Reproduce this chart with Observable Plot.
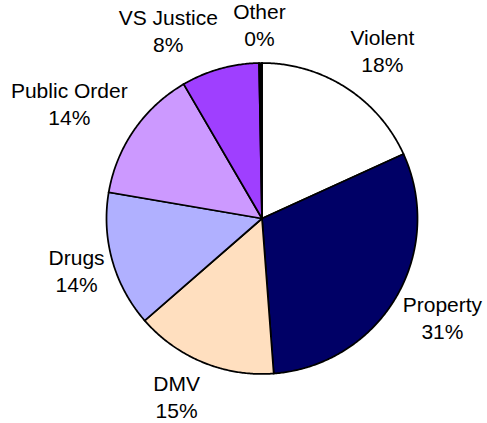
<!DOCTYPE html>
<html>
<head>
<meta charset="utf-8">
<script src="https://cdn.jsdelivr.net/npm/d3@7"></script>
<script src="https://cdn.jsdelivr.net/npm/@observablehq/plot@0.6"></script>
<style>
  html, body { margin: 0; padding: 0; background: #fff; }
  #chart svg { display: block; }
</style>
</head>
<body>
<div id="chart"></div>
<script>
// ---- data ----
const categories = ["Violent", "Property", "DMV", "Drugs", "Public Order", "VS Justice", "Other"];
const shares = [18.2, 30.6, 14.8, 14.1, 13.9, 8.1, 0.3];
const sliceColors = ["#FFFFFF", "#000066", "#FFDFBF", "#B0B0FF", "#CC99FF", "#9F3FFF", "#000000"];

// ---- layout ----
const W = 487, H = 423;
const margin = {left: 106, right: 70, top: 62.5, bottom: 49.5};
const R = (W - margin.left - margin.right) / 2; // pixels per data unit
const fontSize = 21;
const fontFamily = "'Liberation Sans', Arial, Helvetica, sans-serif";

const total = d3.sum(shares);
const pie = d3.pie().sort(null).value(d => d)(shares);

// slice polygons in unit coordinates (y up), angles clockwise from 12 o'clock
const polyPts = [];
pie.forEach((p, i) => {
  const cat = categories[i];
  const a0 = p.startAngle, a1 = p.endAngle;
  const n = Math.max(2, Math.ceil((a1 - a0) / (Math.PI / 360)));
  polyPts.push({cat, x: 0, y: 0});
  for (let k = 0; k <= n; k++) {
    const a = a0 + (a1 - a0) * k / n;
    polyPts.push({cat, x: Math.sin(a), y: Math.cos(a)});
  }
  polyPts.push({cat, x: 0, y: 0});
});

// label placement: "outside end" style boxes
const ctx = document.createElement("canvas").getContext("2d");
ctx.font = `${fontSize}px ${fontFamily}`;
const pad = 8, hHalf = 29;
const clamp = v => Math.max(-1, Math.min(1, v));
const labels = pie.map((p, i) => {
  const text = `${categories[i]}\n${Math.round(shares[i] / total * 100)}%`;
  const w = d3.max(text.split("\n"), s => ctx.measureText(s).width);
  const a = (p.startAngle + p.endAngle) / 2;
  const sx = clamp(4 * Math.sin(a));
  const sy = clamp(1.2 * Math.cos(a)); // y up
  const px = (R + pad) * Math.sin(a) + sx * w / 2;
  const py = (R + pad) * Math.cos(a) + sy * hHalf;
  return {text, x: px / R, y: py / R};
});

const chart = Plot.plot({
  width: W,
  height: H,
  marginLeft: margin.left,
  marginRight: margin.right,
  marginTop: margin.top,
  marginBottom: margin.bottom,
  x: {domain: [-1, 1], axis: null},
  y: {domain: [-1, 1], axis: null},
  color: {domain: categories, range: sliceColors},
  style: {background: "#fff", overflow: "visible", color: "#000"},
  marks: [
    Plot.line(polyPts, {
      x: "x", y: "y", z: "cat", fill: "cat",
      stroke: "#000", strokeWidth: 1.75, strokeLinejoin: "miter", strokeMiterlimit: 2
    }),
    Plot.text(labels, {
      x: "x", y: "y", text: "text", dy: -2.5,
      fontSize, fontFamily, lineHeight: 1.29, fill: "#000"
    })
  ]
});
document.getElementById("chart").appendChild(chart);
</script>
</body>
</html>
